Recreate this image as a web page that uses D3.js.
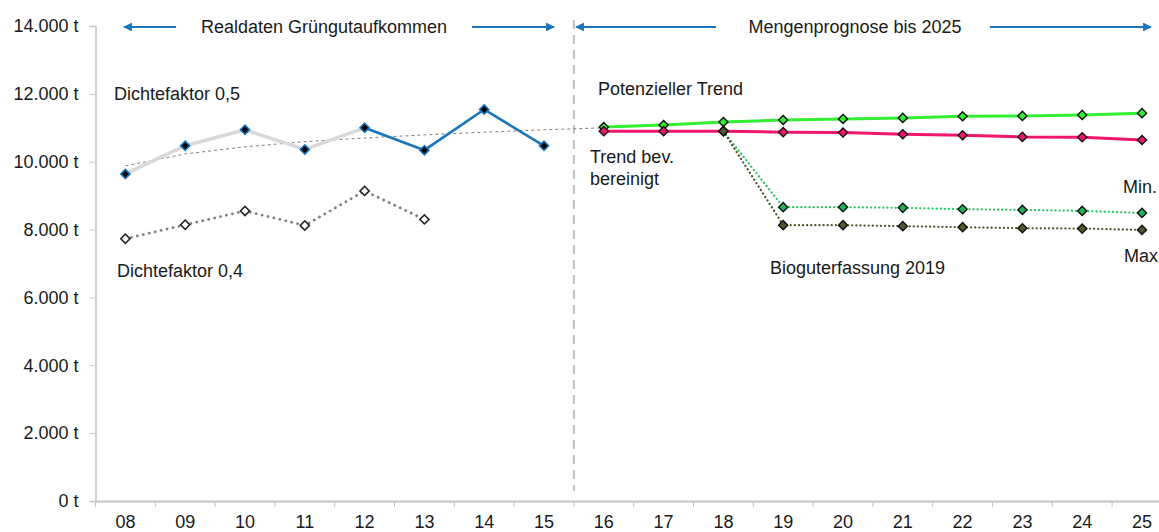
<!DOCTYPE html>
<html><head><meta charset="utf-8">
<script src="https://cdn.jsdelivr.net/npm/d3@7"></script>
<style>body{margin:0;background:#fff}svg{display:block;font-family:"Liberation Sans",Arial,sans-serif}</style>
</head><body><svg id="c" width="1159" height="532"></svg>
<script>
const categories = ["08","09","10","11","12","13","14","15","16","17","18","19","20","21","22","23","24","25"];
const yTicks = [0,2000,4000,6000,8000,10000,12000,14000];
// Realdaten
const dichte05 = [9640,10470,10940,10360,11000,10340,11540,10470];
const dichte04 = [7730,8140,8550,8120,9140,8300];
const trendLog = [9880,10230,10440,10590,10700,10790,10870,10940,11000];
// Prognose (from 16)
const potTrend = [11020,11080,11170,11230,11260,11290,11340,11350,11380,11430];
const trendBev = [10900,10900,10900,10870,10860,10810,10780,10730,10720,10640];
const bioMin = [null,null,10900,8660,8660,8640,8600,8580,8550,8490];
const bioMax = [null,null,10900,8130,8130,8100,8070,8040,8030,7990];

const svg = d3.select("#c");
const x = d3.scaleBand().domain(categories).range([95.5, 95.5 + 18*59.8]);
const cx = c => x(c) + x.bandwidth()/2;
const y = d3.scaleLinear().domain([0,14000]).range([501,26]);
const de = d3.formatLocale({decimal:",",thousands:".",grouping:[3],currency:["","€"]});
const fmt = v => de.format(",")(v) + " t";
const axisCol = "#c4c4c4";
const FS = 18;

// y axis
const ya = svg.append("g").attr("transform","translate(95.5,0)")
  .call(d3.axisLeft(y).tickValues(yTicks).tickFormat(fmt).tickSize(6).tickPadding(11));
ya.select(".domain").attr("stroke",axisCol).attr("stroke-width",1.5);
ya.selectAll(".tick line").attr("stroke",axisCol);
ya.selectAll("text").attr("font-size",FS).attr("fill","#1a1a1a").style("font-family","Liberation Sans, Arial");

// x axis
const xa = svg.append("g").attr("transform","translate(0,501)")
  .call(d3.axisBottom(x).tickSize(0).tickPadding(14));
xa.select(".domain").attr("stroke",axisCol).attr("stroke-width",2);
xa.selectAll("text").attr("font-size",FS).attr("fill","#1a1a1a").style("font-family","Liberation Sans, Arial");
svg.append("g").selectAll("line").data(categories).join("line")
  .attr("x1",d=>x(d)).attr("x2",d=>x(d)).attr("y1",501).attr("y2",507)
  .attr("stroke",axisCol).attr("stroke-width",1);

// divider
svg.append("line").attr("x1",x("16")).attr("x2",x("16")).attr("y1",20).attr("y2",491)
  .attr("stroke","#c0c0c0").attr("stroke-width",2).attr("stroke-dasharray","9,6");

// top arrows
const defs = svg.append("defs");
defs.append("marker").attr("id","ah").attr("viewBox","0 0 10 10").attr("refX",9).attr("refY",5)
  .attr("markerWidth",4).attr("markerHeight",4).attr("orient","auto-start-reverse")
  .append("path").attr("d","M0,0L10,5L0,10z").attr("fill","#1b75bb");
const arrow = (x1,x2) => svg.append("line").attr("x1",x1).attr("x2",x2).attr("y1",27).attr("y2",27)
  .attr("stroke","#1b75bb").attr("stroke-width",2.2).attr("marker-end","url(#ah)");
arrow(176,124); arrow(472,554); arrow(716,576); arrow(990,1151);
const txt = (t,xx,yy,anchor="start") => svg.append("text").attr("x",xx).attr("y",yy).attr("font-size",FS)
  .attr("fill","#1a1a1a").attr("text-anchor",anchor).text(t);
txt("Realdaten Grüngutaufkommen",324,33,"middle");
txt("Mengenprognose bis 2025",855,33,"middle");

const line = d3.line().defined(d=>d.v!=null).x(d=>cx(d.c)).y(d=>y(d.v));
const mk = (arr, off) => arr.map((v,i)=>({c:categories[i+off], v}));

// log trend
svg.append("path").datum(mk(trendLog,0)).attr("d",line).attr("fill","none")
  .attr("stroke","#808080").attr("stroke-width",1).attr("stroke-dasharray","3,3");

// Dichtefaktor 0,4
const d04 = mk(dichte04,0);
svg.append("path").datum(d04).attr("d",line).attr("fill","none")
  .attr("stroke","#808080").attr("stroke-width",2.8).attr("stroke-dasharray","0.1,6").attr("stroke-linecap","round");
// Dichtefaktor 0,5
const d05 = mk(dichte05,0);
svg.append("path").datum(d05.slice(0,5)).attr("d",line).attr("fill","none").attr("stroke","#d9d9d9").attr("stroke-width",3.5);
svg.append("path").datum(d05.slice(4)).attr("d",line).attr("fill","none").attr("stroke","#1b75bb").attr("stroke-width",2.6);

// forecast lines
const pT = mk(potTrend,8), tB = mk(trendBev,8), bMin = mk(bioMin,8), bMax = mk(bioMax,8);
svg.append("path").datum(bMin).attr("d",line).attr("fill","none").attr("stroke","#1fc45a")
  .attr("stroke-width",2.2).attr("stroke-dasharray","0.1,4").attr("stroke-linecap","round");
svg.append("path").datum(bMax).attr("d",line).attr("fill","none").attr("stroke","#4a5128")
  .attr("stroke-width",2.2).attr("stroke-dasharray","0.1,4").attr("stroke-linecap","round");
svg.append("path").datum(pT).attr("d",line).attr("fill","none").attr("stroke","#33ee33").attr("stroke-width",3);
svg.append("path").datum(tB).attr("d",line).attr("fill","none").attr("stroke","#f0166a").attr("stroke-width",3);

// markers (square diamonds)
const sym = d3.symbol().type(d3.symbolSquare).size(42);
const markers = (data, fill, stroke, sw) => svg.append("g").selectAll("path").data(data.filter(d=>d.v!=null)).join("path")
  .attr("d",sym).attr("transform",d=>`translate(${cx(d.c)},${y(d.v)}) rotate(45)`)
  .attr("fill",fill).attr("stroke",stroke).attr("stroke-width",sw);
markers(d04,"#ffffff","#262626",1.6);
markers(d05,"#000000","#1b75bb",1.6);
markers(pT,"#33ee33","#111",1.4);
markers(tB,"#f0166a","#111",1.4);
markers(bMin,"#1fb35a","#111",1.4);
markers(bMax,"#4f5a2c","#111",1.4);

// labels
txt("Dichtefaktor 0,5",114,100);
txt("Dichtefaktor 0,4",117,277);
txt("Potenzieller Trend",598,95);
txt("Trend bev.",590,163);
txt("bereinigt",590,185);
txt("Min.",1123,193);
txt("Max",1124,262);
txt("Bioguterfassung 2019",770,274);
</script></body></html>
